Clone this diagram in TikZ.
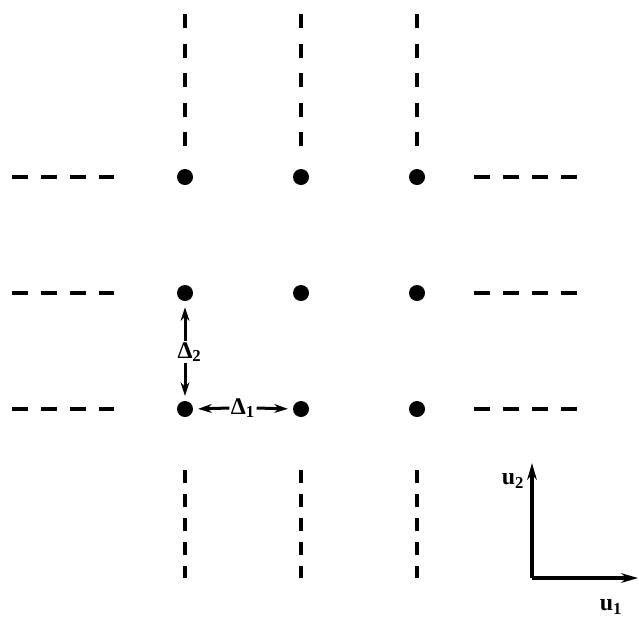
\documentclass[tikz,border=0pt]{standalone}
\usepackage{fontspec}
\setmainfont{Liberation Serif}
\usetikzlibrary{arrows.meta}

\begin{document}
\begin{tikzpicture}[x=0.25mm, y=-0.25mm,
    lnode/.style={circle, fill=black, inner sep=0pt, minimum size=4mm},
    vdashes/.style={line width=0.85mm, dash pattern=on 3.5mm off 3.9mm},
    bdashes/.style={line width=0.85mm, dash pattern=on 3.25mm off 2.75mm},
    hdashes/.style={line width=0.8mm, dash pattern=on 4mm off 3.25mm},
    lbl/.style={font=\fontsize{17}{20}\selectfont\bfseries, inner sep=1pt},
    gap/.style={line width=0.75mm, -{Stealth[length=3.4mm, width=2.2mm]}},
    axis/.style={line width=0.8mm, -{Stealth[length=4.2mm, width=2.4mm]}}
]
\useasboundingbox (0,0) rectangle (639,616);

% --- lattice points ---
\node[lnode] (r1c1) at (185,177) {};
\node[lnode] (r1c2) at (301,177) {};
\node[lnode] (r1c3) at (417,177) {};
\node[lnode] (r2c1) at (185,293) {};
\node[lnode] (r2c2) at (301,293) {};
\node[lnode] (r2c3) at (417,293) {};
\node[lnode] (r3c1) at (185,409) {};
\node[lnode] (r3c2) at (301,409) {};
\node[lnode] (r3c3) at (417,409) {};

% continuation, top and bottom
\draw[vdashes] (185,14) -- (185,147);
\draw[vdashes] (301,14) -- (301,147);
\draw[vdashes] (417,14) -- (417,147);
\draw[bdashes] (185,470) -- (185,578);
\draw[bdashes] (301,470) -- (301,578);
\draw[bdashes] (417,470) -- (417,578);

% continuation, left and right
\draw[hdashes] (12,177) -- (114,177);
\draw[hdashes] (12,293) -- (114,293);
\draw[hdashes] (12,409) -- (114,409);
\draw[hdashes] (474,177) -- (577,177);
\draw[hdashes] (474,293) -- (577,293);
\draw[hdashes] (474,409) -- (577,409);

% --- spacings ---
\node[lbl] (D2) at (185,352) {Δ\rlap{\textsubscript{2}}};
\node[lbl] (D1) at (243,408) {Δ\textsubscript{1}};
\draw[gap, shorten >=1.5mm] (D2.north) -- (r2c1.south);
\draw[gap, shorten >=1.2mm] (D2.south) -- (r3c1.north);
\draw[gap, shorten >=1.2mm] (D1.west) -- (r3c1.east);
\draw[gap, shorten >=1.2mm] (D1.east) -- (r3c2.west);

% --- axes ---
\coordinate (o) at (532,578);
\coordinate (e2) at (532,463);
\coordinate (e1) at (638,578);
\draw[axis] (o) -- (e2);
\draw[axis] (o) -- (e1);
\node[lbl] (u2) at (513,481) {u\textsubscript{2}};
\node[lbl] (u1) at (611,607) {u\textsubscript{1}};

\end{tikzpicture}
\end{document}
